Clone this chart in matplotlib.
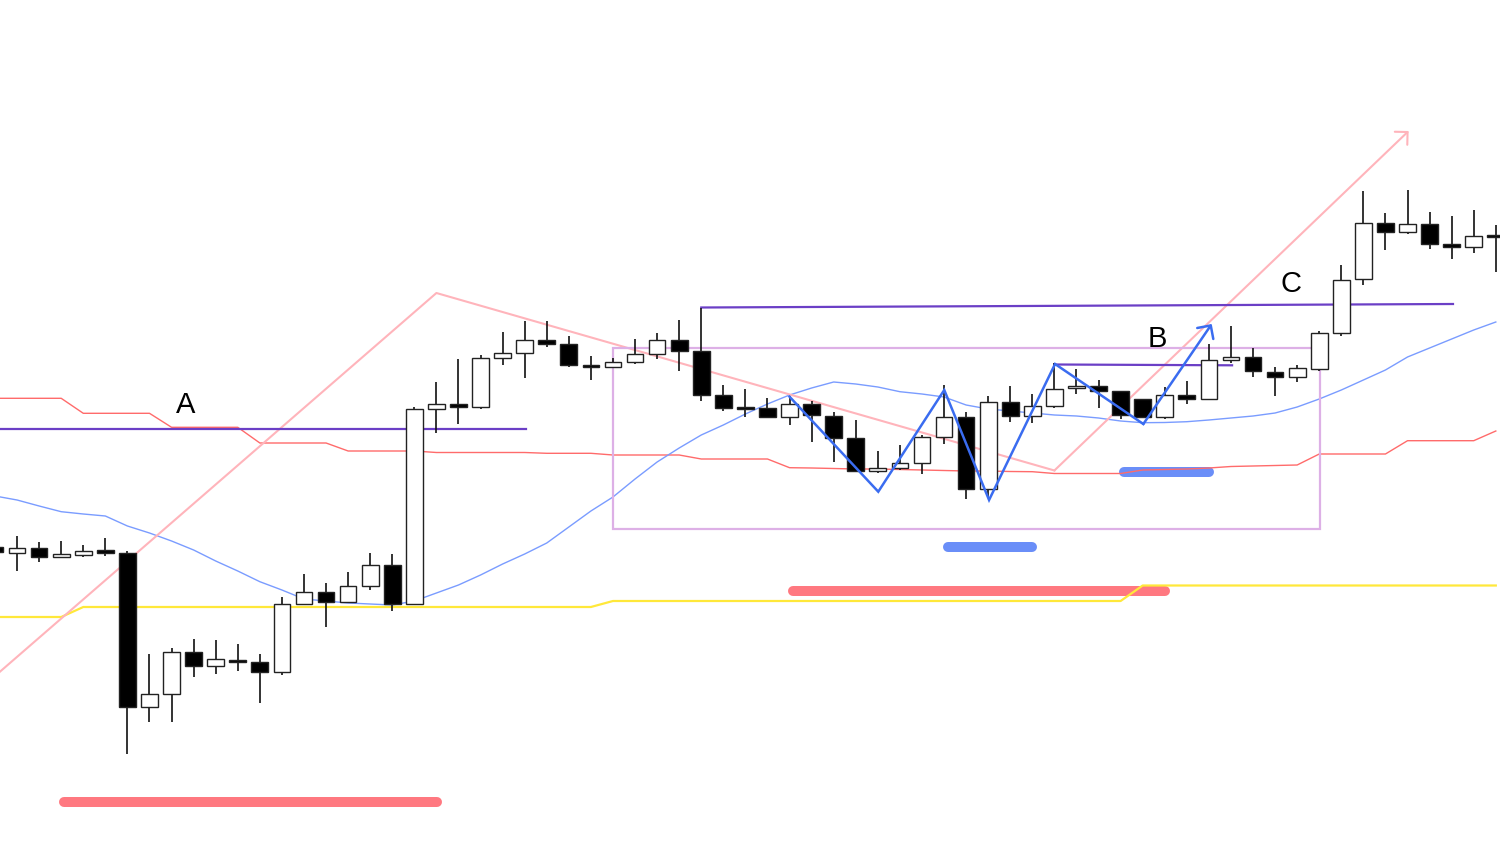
import matplotlib
matplotlib.use('Agg')
import matplotlib.pyplot as plt
from matplotlib.patches import Rectangle

# ---- data (vertical chart units, 0 = top, larger = lower price) ----
open_ = [546.7, 552.7, 547.7, 557.3, 554.7, 550.3, 552.7, 706.7, 694.3, 652.0,
         666.0, 660.0, 662.0, 671.7, 603.7, 592.3, 601.7, 586.0, 565.3, 604.0,
         408.7, 403.7, 406.7, 357.7, 353.0, 340.0, 344.3, 365.3, 367.0, 362.3,
         354.3, 340.3, 351.0, 395.3, 407.3, 407.7, 417.3, 404.0, 415.7, 438.3,
         471.0, 468.3, 463.3, 436.7, 417.3, 489.0, 401.7, 416.3, 406.0, 388.3,
         385.7, 390.7, 398.7, 417.0, 395.3, 399.0, 360.3, 356.7, 371.7, 377.3,
         368.7, 333.3, 279.3, 223.3, 232.0, 224.0, 244.3, 247.0, 235.0]
close = [552.0, 547.7, 557.3, 554.3, 550.7, 553.0, 706.7, 694.3, 652.0, 666.0,
         659.3, 662.0, 671.7, 604.0, 592.3, 601.7, 586.0, 565.3, 604.0, 409.0,
         403.7, 406.7, 358.0, 353.3, 339.7, 344.0, 365.3, 366.7, 362.3, 354.3,
         340.3, 351.0, 395.3, 408.3, 408.3, 417.3, 404.0, 415.3, 437.7, 471.0,
         468.3, 463.3, 436.7, 417.3, 489.0, 401.7, 416.3, 406.3, 388.7, 385.7,
         390.7, 415.3, 417.0, 395.3, 398.7, 360.3, 356.7, 371.3, 377.3, 368.3,
         333.3, 280.0, 223.3, 232.0, 224.0, 244.3, 246.7, 236.3, 236.7]
high = [544.0, 536.0, 542.3, 541.3, 545.3, 538.3, 551.3, 654.3, 647.7, 638.7,
        640.0, 644.3, 654.3, 596.7, 574.3, 583.3, 571.7, 552.7, 554.3, 407.3,
        382.0, 358.7, 355.3, 332.0, 320.7, 320.7, 335.7, 356.0, 358.0, 338.7,
        333.3, 320.0, 307.5, 384.7, 389.3, 398.0, 396.0, 401.0, 412.0, 420.0,
        451.0, 445.0, 435.0, 385.3, 411.7, 395.7, 386.0, 394.0, 363.3, 369.0,
        380.0, 390.7, 398.7, 387.3, 380.7, 344.0, 326.0, 348.3, 367.0, 365.0,
        331.3, 264.7, 190.7, 213.3, 190.3, 212.3, 216.0, 210.0, 225.0]
low = [554.0, 571.0, 562.0, 557.3, 556.7, 555.7, 754.0, 722.3, 722.3, 676.7,
       674.3, 671.0, 703.3, 675.0, 605.0, 627.0, 602.7, 590.0, 611.0, 604.0,
       433.3, 424.3, 409.3, 365.0, 378.0, 346.7, 366.7, 380.0, 368.0, 364.3,
       359.0, 370.7, 400.7, 410.7, 416.7, 418.3, 424.7, 441.7, 462.3, 472.3,
       473.3, 470.0, 474.0, 444.3, 499.3, 496.7, 422.3, 423.0, 407.5, 394.3,
       408.3, 419.3, 417.3, 419.0, 404.0, 400.0, 362.7, 376.7, 395.7, 381.7,
       370.7, 335.7, 285.0, 250.0, 234.0, 249.0, 259.0, 253.3, 272.3]

base_line = [398.3, 398.3, 398.3, 398.3, 413.3, 413.3, 413.3, 413.3, 427.3, 427.3,
             427.3, 427.3, 443.0, 443.0, 443.0, 443.0, 451.0, 451.0, 451.0, 451.0,
             452.5, 452.5, 452.5, 452.5, 452.5, 453.3, 453.3, 453.3, 455.0, 455.0,
             455.0, 455.0, 459.0, 459.0, 459.0, 459.0, 467.7, 468.0, 468.5, 469.0,
             469.0, 469.5, 470.0, 470.5, 471.0, 471.0, 471.5, 471.7, 473.5, 473.5,
             473.5, 473.5, 470.0, 469.5, 469.0, 468.0, 466.5, 466.0, 465.5, 465.0,
             454.0, 454.0, 454.0, 454.0, 440.7, 440.7, 440.7, 440.7, 431.0]
ma_line = [496.0, 500.0, 506.0, 511.7, 514.0, 516.0, 526.0, 533.0, 541.0, 550.0,
           561.0, 571.0, 581.7, 590.0, 599.0, 601.0, 603.0, 604.0, 605.0, 601.0,
           593.0, 585.0, 575.0, 564.0, 554.0, 543.0, 527.0, 511.0, 497.0, 479.0,
           462.0, 448.0, 435.0, 425.0, 414.0, 404.0, 395.0, 388.0, 382.0, 384.0,
           387.0, 391.7, 394.0, 397.0, 405.0, 409.0, 411.0, 413.0, 415.0, 416.0,
           418.0, 421.0, 422.7, 422.5, 421.7, 420.0, 418.0, 416.0, 413.0, 407.0,
           399.0, 390.0, 380.0, 370.0, 357.0, 348.0, 339.0, 330.0, 322.0]
span_line = [617.0] * 4 + [607.0] * 24 + [601.0] * 24 + [585.5] * 17

# trend line (pink), zigzag (blue) knots: (candle index, level)
trend_idx = [0, 20, 48, 64.05]
trend_val = [676.0, 293.0, 470.5, 131.0]
zig_idx = [36, 40.02, 43.01, 45.04, 48.03, 52.03, 55.13]
zig_val = [396.7, 491.7, 390.0, 500.0, 364.0, 424.0, 324.0]

# horizontal levels: (start idx, end idx, level)
levels = [(0.0, 24.05, 428.7), (32.0, 66.06, 307.5, 304.0), (48.0, 56.05, 364.5, 365.3)]
zone_box = (28.0, 60.04, 347.5, 528.5)
red_bars = [(3.13, 20.03, 802.3), (36.15, 53.0, 591.0)]
blue_bars = [(43.2, 47.0, 546.7), (51.15, 55.0, 472.0)]
labels = [("A", 8.645, 413.3), ("B", 52.67, 346.7), ("C", 58.70, 291.5)]

# ---- figure ----
fig = plt.figure(figsize=(15, 8.68), dpi=100)
ax = fig.add_axes([0, 0, 1, 1])
ax.set_xlim(0.2266, 68.19)
ax.set_ylim(868, 0)
ax.axis('off')

n = len(open_)
xs = list(range(n))

# thick highlight bars
for x0, x1, y in red_bars:
    ax.plot([x0, x1], [y, y], color='#ff7880', lw=7.2, solid_capstyle='round', zorder=1)
for x0, x1, y in blue_bars:
    ax.plot([x0, x1], [y, y], color='#6a8ef8', lw=7.2, solid_capstyle='round', zorder=1)

# indicator lines
ax.plot(xs, base_line, color='#ff6b6b', lw=1.0, zorder=2)
ax.plot(xs, ma_line, color='#7a9cff', lw=1.0, zorder=2)
ax.plot(xs, span_line, color='#ffe83a', lw=1.6, zorder=2)

# trend line with arrow
ax.plot(trend_idx[:-1], trend_val[:-1], color='#ffb4bb', lw=1.5, zorder=2)
ax.annotate('', xy=(trend_idx[-1], trend_val[-1]), xytext=(trend_idx[-2], trend_val[-2]),
            arrowprops=dict(arrowstyle='->,head_length=0.65,head_width=0.65',
                            color='#ffb4bb', lw=1.5, shrinkA=0, shrinkB=0), zorder=2)

# zone box
bx0, bx1, by0, by1 = zone_box
ax.add_patch(Rectangle((bx0, by0), bx1 - bx0, by1 - by0, fill=False,
                       edgecolor='#ddb0e6', lw=1.6, zorder=2))

# horizontal levels
for lv in levels:
    x0, x1 = lv[0], lv[1]
    y0 = lv[2]
    y1 = lv[3] if len(lv) > 3 else lv[2]
    ax.plot([x0, x1], [y0, y1], color='#6b3fc6', lw=1.6, zorder=2)

# candles
bw = 0.757
for i in range(n):
    o, c, h, l = open_[i], close[i], high[i], low[i]
    ax.vlines(i, h, l, color='#111111', lw=1.2, zorder=3)
    top = min(o, c)
    ht = max(abs(c - o), 1.5)
    face = 'white' if c < o else 'black'
    ax.add_patch(Rectangle((i - bw / 2, top), bw, ht, facecolor=face,
                           edgecolor='#222222', lw=1.0, zorder=4))

# zigzag
ax.plot(zig_idx[:-1], zig_val[:-1], color='#3a6cf0', lw=1.8, zorder=5, solid_joinstyle='miter')
ax.annotate('', xy=(zig_idx[-1], zig_val[-1]), xytext=(zig_idx[-2], zig_val[-2]),
            arrowprops=dict(arrowstyle='->,head_length=0.7,head_width=0.7',
                            color='#3a6cf0', lw=1.8, shrinkA=0, shrinkB=0), zorder=5)

for t, x, y in labels:
    ax.text(x, y, t, fontsize=21, family='Liberation Sans', ha='center', va='baseline',
            color='black', zorder=7)

fig.savefig('out.png', dpi=100, facecolor='white')
